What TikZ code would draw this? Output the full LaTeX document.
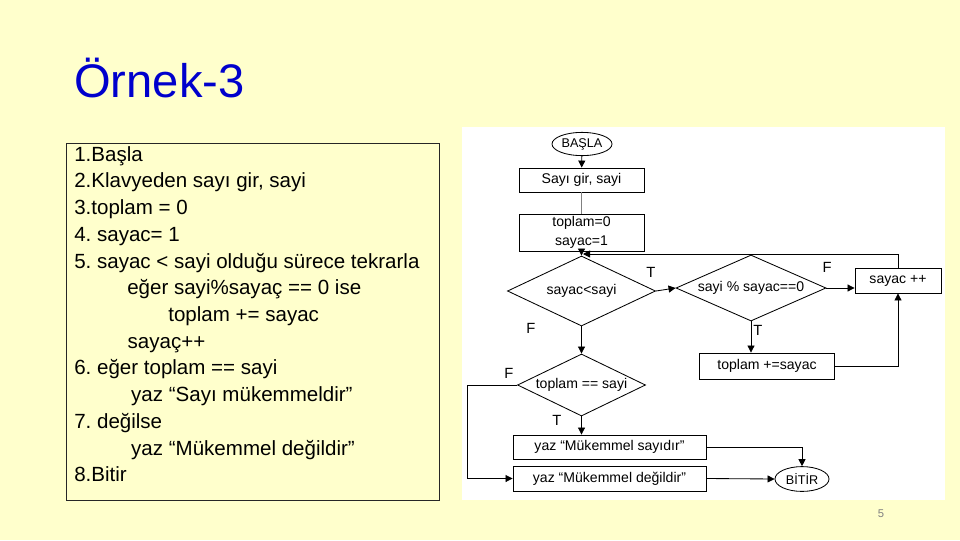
\documentclass[tikz,border=0pt]{standalone}
\usepackage{fontspec}
\setmainfont{Liberation Sans}
\usepackage{tikz}
\usetikzlibrary{shapes.geometric,arrows.meta}
\definecolor{sari}{RGB}{255,255,204}
\definecolor{baslikmavi}{RGB}{0,0,204}

\begin{document}
\frenchspacing
\begin{tikzpicture}[x=0.025cm,y=-0.025cm]

\tikzset{box/.style = {draw, line width=0.6pt, inner sep=0pt, font=\fontsize{10}{12}\selectfont}}
\tikzset{decision/.style = {diamond, aspect=2.2, draw, line width=0.6pt, inner sep=0pt, font=\fontsize{10}{12}\selectfont}}
\tikzset{terminal/.style = {ellipse, draw, line width=0.6pt, inner sep=0pt, font=\fontsize{9}{11}\selectfont}}
\tikzset{edge/.style = {-{Triangle[length=5pt,width=5pt]}, line width=0.6pt}}
\tikzset{tf/.style = {font=\fontsize{10.5}{12}\selectfont}}
%\draw[help lines] (0,0) grid[step=40] (960,540);
\useasboundingbox (0,0) rectangle (960,540);
\fill[sari] (0,0) rectangle (960,540);

\node[anchor=base west, inner sep=0pt, text=baslikmavi, font=\fontsize{33.5}{40}\selectfont] (baslik) at (74,97) {Örnek-3};

% algoritma
\draw[line width=0.7pt, black!85] (66,143) rectangle (439,500);
\node[anchor=north west, align=left, inner sep=0pt, font=\fontsize{14.6}{19}\selectfont\frenchspacing] (algo) at (74,146) {1.Başla\\
2.Klavyeden sayı gir, sayi\\
3.toplam = 0\\
4. sayac= 1\\
5. sayac < sayi olduğu sürece tekrarla\\
\hspace*{37.7pt}eğer sayi\%sayaç == 0 ise\\
\hspace*{66.9pt}toplam += sayac\\
\hspace*{38pt}sayaç++\\
6. eğer toplam == sayi\\
\hspace*{40.5pt}yaz “Sayı mükemmeldir”\\
7. değilse\\
\hspace*{40.5pt}yaz “Mükemmel değildir”\\
8.Bitir};

% akis diyagrami
\fill[white] (462,127) rectangle (945,500);
\node[terminal, minimum width=1.5cm, minimum height=0.58cm] (basla) at (582,144) {BAŞLA};
\node[box, minimum width=3.125cm, minimum height=0.6cm] (gir) at (581.5,180) {Sayı gir, sayi};
\node[box, align=center, minimum width=3.125cm, minimum height=0.925cm] (ilk) at (581.5,232.5) {toplam=0\\[2pt] sayac=1};
\node[decision, minimum width=3.7cm, minimum height=1.75cm] (d1) at (581.5,291) {sayac<sayi};
\node[decision, minimum width=3.75cm, minimum height=1.65cm] (d2) at (751,288) {sayi \% sayac==0};
\node[box, minimum width=2.15cm, minimum height=0.625cm] (art) at (898,280.5) {sayac ++};
\node[box, minimum width=3.375cm, minimum height=0.65cm] (topl) at (767,366) {toplam +=sayac};
\node[decision, minimum width=3.2cm, minimum height=1.55cm] (d3) at (581.5,385) {toplam == sayi};
\node[box, minimum width=4.825cm, minimum height=0.6cm] (y1) at (609.5,447) {yaz “Mükemmel sayıdır”};
\node[box, minimum width=4.825cm, minimum height=0.625cm] (y2) at (609.5,478.5) {yaz “Mükemmel değildir”};
\node[terminal, minimum width=1.35cm, minimum height=0.62cm] (bitir) at (802,479) {BİTİR};

\node[tf] (t1) at (651,272) {T};
\node[tf] (f1) at (531,328) {F};
\node[tf] (f2) at (827,267) {F};
\node[tf] (t2) at (758,330) {T};
\node[tf] (f3) at (509,373) {F};
\node[tf] (t3) at (557,420) {T};

\coordinate (m) at (583,254);
\coordinate (k) at (467,385);

\draw[edge] (basla) -- (gir);
\draw[line width=0.6pt, gray] (gir) -- (ilk);
\draw[edge] (ilk) -- (d1);
\draw[edge] (art.north) |- (m);
\draw[edge] (d1.east) -- (d2.west);
\draw[edge] (d2.east) -- (d2.east -| art.west);
\draw[edge] (d2.south) -- (d2.south |- topl.north);
\draw[edge] (topl.east) -| (art.south);
\draw[edge] (d1.south) -- (d3.north);
\draw[edge] (d3.south) -- (d3.south |- y1.north);
\draw[edge] (d3.west) -- (k) |- (y2.west);
\draw[edge] (y1.east) -| (bitir.north);
\draw[edge] (y2.east) -- (bitir.west);

\node[text=gray, font=\fontsize{8}{10}\selectfont] (sayfa) at (881,514) {5};
\end{tikzpicture}
\end{document}
